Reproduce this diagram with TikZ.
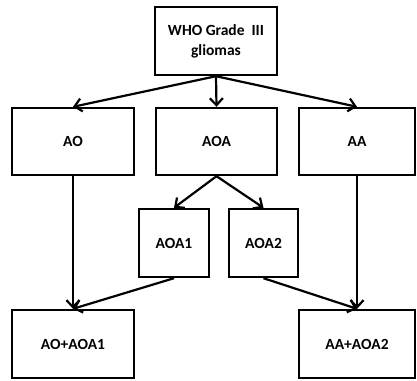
\documentclass[tikz,border=0pt]{standalone}
\usepackage{fontspec}
\setmainfont{Carlito}
\usetikzlibrary{arrows.meta}
\begin{document}
\begin{tikzpicture}[x=1pt,y=-1pt,
  box/.style={draw=black,line width=2.4pt,fill=white,align=center,inner sep=0pt,
    font=\fontsize{15.5}{20}\selectfont\bfseries},
  conn/.style={draw=black,line width=2.2pt,-{Straight Barb[length=7pt,width=13pt,line width=2.2pt]}}]
\useasboundingbox (0,0) rectangle (417,380);
\fill[white] (0,0) rectangle (417,380);
\node[box,minimum width=122pt,minimum height=68pt] (who) at (216,41) {WHO Grade\ \ III\\gliomas};
\node[box,minimum width=122pt,minimum height=67pt] (ao) at (73,141.5) {AO};
\node[box,minimum width=121pt,minimum height=67pt] (aoa) at (216.5,141.5) {AOA};
\node[box,minimum width=116pt,minimum height=67pt] (aa) at (357,141.5) {AA};
\node[box,minimum width=70pt,minimum height=68pt] (aoa1) at (174,243) {AOA1};
\node[box,minimum width=69pt,minimum height=68pt] (aoa2) at (263.5,243) {AOA2};
\node[box,minimum width=122pt,minimum height=68pt] (aoaoa1) at (73,344) {AO+AOA1};
\node[box,minimum width=116pt,minimum height=68pt] (aaaoa2) at (357,344) {AA+AOA2};
\draw[conn] (who.south) -- (ao.north);
\draw[conn] (who.south) -- (aoa.north);
\draw[conn] (who.south) -- (aa.north);
\draw[conn] (aoa.south) -- (aoa1.north);
\draw[conn] (aoa.south) -- (aoa2.north);
\draw[conn] (ao.south) -- (aoaoa1.north);
\draw[conn] (aa.south) -- (aaaoa2.north);
\draw[conn] (aoa1.south) -- (aoaoa1.north);
\draw[conn] (aoa2.south) -- (aaaoa2.north);
\end{tikzpicture}
\end{document}
